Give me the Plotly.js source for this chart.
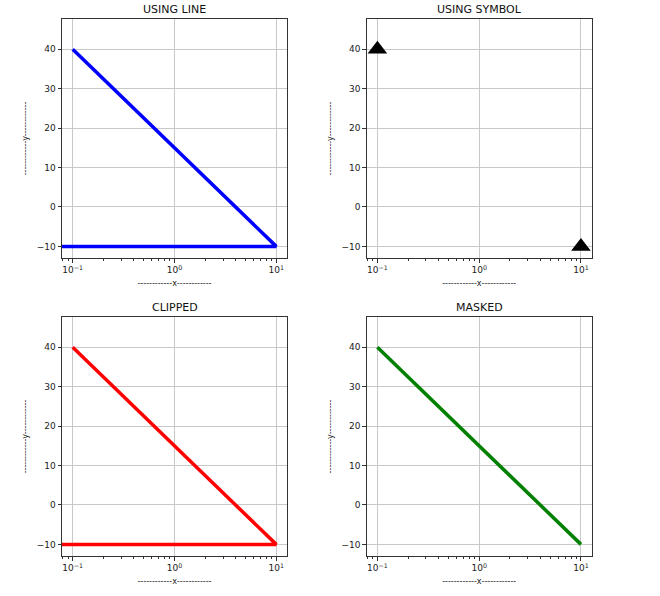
<!DOCTYPE html>
<html>
<head>
<meta charset="utf-8">
<script src="https://cdn.plot.ly/plotly-3.0.1.min.js"></script>
<style>html,body{margin:0;padding:0;background:#fff;}#chart{width:660px;height:596px;}</style>
</head>
<body>
<div id="chart"></div>
<script>
// Data (x <= 0 is a non-positive value on a log axis)
const xData = [0.1, 10, 0];
const yData = [40, -10, -10];
const titles = ['USING LINE', 'USING SYMBOL', 'CLIPPED', 'MASKED'];
const xTickVals = [0.1, 1, 10];
const xTickText = ['10<sup>\u22121</sup>', '10<sup>0</sup>', '10<sup>1</sup>'];
const xMinorVals = [0.08, 0.09, 0.2, 0.3, 0.4, 0.5, 0.6, 0.7, 0.8, 0.9, 2, 3, 4, 5, 6, 7, 8, 9];
const yTickVals = [-10, 0, 10, 20, 30, 40];
const yTickText = ['\u221210', '0', '10', '20', '30', '40'];
const xLabel = '------------x------------';
const yLabel = '------------y------------';

// matplotlib-like "clip": non-positive values pushed far off to the left
const clipX = xData.map(v => v > 0 ? v : 1e-300);
// "mask": non-positive values dropped (Plotly leaves a gap)
const maskX = xData.map(v => v > 0 ? v : null);

const traces = [
  {x: clipX, y: yData, xaxis: 'x', yaxis: 'y', mode: 'lines', line: {color: '#0000ff', width: 3.5}},
  {x: maskX, y: yData, xaxis: 'x2', yaxis: 'y2', mode: 'markers', marker: {symbol: 'triangle-up', color: '#000', size: 17}},
  {x: clipX, y: yData, xaxis: 'x3', yaxis: 'y3', mode: 'lines', line: {color: '#ff0000', width: 3.5}},
  {x: maskX, y: yData, xaxis: 'x4', yaxis: 'y4', mode: 'lines', line: {color: '#008000', width: 3.5}, connectgaps: false}
].map(t => Object.assign({showlegend: false, hoverinfo: 'skip'}, t));

const W = 660, H = 596;
const cols = [[62, 287], [366.7, 591.7]];
const rows = [[19, 258], [317, 556]];

const layout = {
  width: W, height: H,
  margin: {l: 0, r: 0, t: 0, b: 0},
  paper_bgcolor: '#fff', plot_bgcolor: '#fff',
  font: {family: 'DejaVu Sans', size: 9, color: '#222'},
  showlegend: false,
  annotations: []
};

for (let i = 0; i < 4; i++) {
  const c = cols[i % 2], r = rows[Math.floor(i / 2)];
  const sfx = i === 0 ? '' : String(i + 1);
  const anchorX = 'x' + sfx, anchorY = 'y' + sfx;
  layout['xaxis' + sfx] = {
    type: 'log',
    domain: [c[0] / W, c[1] / W],
    anchor: anchorY,
    range: [Math.log10(0.0785), Math.log10(12.75)],
    tickmode: 'array', tickvals: xTickVals, ticktext: xTickText,
    ticks: 'outside', ticklen: 3.5, tickwidth: 0.8, tickcolor: '#333',
    minor: {tickmode: 'array', tickvals: xMinorVals, ticks: 'outside', ticklen: 2, tickwidth: 0.6, tickcolor: '#333', showgrid: false},
    showgrid: true, gridcolor: '#c8c8c8', gridwidth: 0.8,
    showline: true, linecolor: '#333', linewidth: 1, mirror: true,
    zeroline: false, automargin: false,
    tickfont: {family: 'DejaVu Sans', size: 9, color: '#222'},
    title: {text: xLabel, font: {family: 'DejaVu Sans', size: 8, color: '#222'}, standoff: 6}
  };
  layout['yaxis' + sfx] = {
    domain: [1 - r[1] / H, 1 - r[0] / H],
    anchor: anchorX,
    range: [-12.95, 47.7],
    tickmode: 'array', tickvals: yTickVals, ticktext: yTickText,
    ticks: 'outside', ticklen: 3.5, tickwidth: 0.8, tickcolor: '#333',
    showgrid: true, gridcolor: '#c8c8c8', gridwidth: 0.8,
    showline: true, linecolor: '#333', linewidth: 1, mirror: true,
    zeroline: false, automargin: false,
    tickfont: {family: 'DejaVu Sans', size: 9, color: '#222'},
    title: {text: yLabel, font: {family: 'DejaVu Sans', size: 8, color: '#222'}, standoff: 6}
  };
  layout.annotations.push({
    text: titles[i], xref: 'paper', yref: 'paper',
    x: (c[0] + c[1]) / 2 / W, y: 1 - (r[0] - 1) / H,
    xanchor: 'center', yanchor: 'bottom', showarrow: false,
    font: {family: 'DejaVu Sans', size: 11, color: '#111'}
  });
}

Plotly.newPlot('chart', traces, layout, {displayModeBar: false});
</script>
</body>
</html>
